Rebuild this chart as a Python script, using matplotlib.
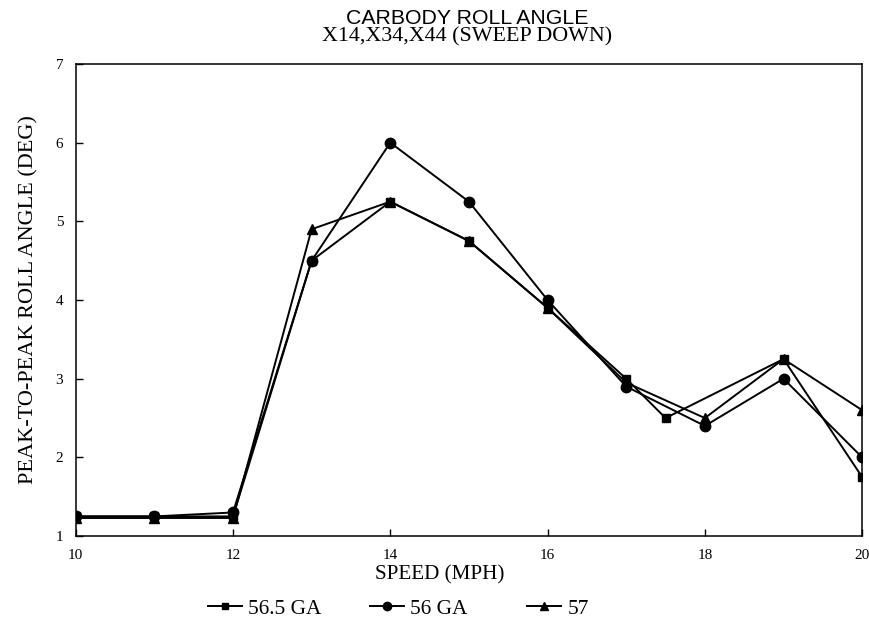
import matplotlib
matplotlib.use("Agg")
import matplotlib.pyplot as plt

# roll angle vs speed for the three gauges
speed_565 = [10, 11, 12, 13, 14, 15, 16, 17, 17.5, 19, 20]
roll_565 = [1.25, 1.25, 1.25, 4.5, 5.25, 4.75, 3.9, 3.0, 2.5, 3.25, 1.75]

speed_56 = [10, 11, 12, 13, 14, 15, 16, 17, 18, 19, 20]
roll_56 = [1.25, 1.25, 1.3, 4.5, 6.0, 5.25, 4.0, 2.9, 2.4, 3.0, 2.0]

speed_57 = [10, 11, 12, 13, 14, 15, 16, 17, 18, 19, 20]
roll_57 = [1.23, 1.23, 1.23, 4.9, 5.25, 4.75, 3.9, 2.95, 2.5, 3.25, 2.6]

labels = ["56.5 GA", "56 GA", "57"]

serif = ["Liberation Serif", "DejaVu Serif"]
sans = ["Liberation Sans", "DejaVu Sans"]

fig = plt.figure(figsize=(8.7, 6.27), dpi=100)
ax = fig.add_axes([0.087, 0.145, 0.904, 0.753])

l1, = ax.plot(speed_565, roll_565, color="black", lw=1.4, marker="s", ms=6, label=labels[0])
l2, = ax.plot(speed_56, roll_56, color="black", lw=1.4, marker="o", ms=7.5, label=labels[1])
l3, = ax.plot(speed_57, roll_57, color="black", lw=1.4, marker="^", ms=7, label=labels[2])

ax.set_xlim(10, 20)
ax.set_ylim(1, 7)
ax.set_xticks([10, 12, 14, 16, 18, 20])
ax.set_yticks([1, 2, 3, 4, 5, 6, 7])
ax.tick_params(direction="in", length=5, width=1, pad=9)
for lab in ax.get_xticklabels() + ax.get_yticklabels():
    lab.set_family(serif)
    lab.set_fontsize(11)
for sp in ax.spines.values():
    sp.set_linewidth(1.1)

ax.set_xlabel("SPEED (MPH)", family=serif, fontsize=15.2)
ax.xaxis.set_label_coords(0.463, -0.062)
ax.set_ylabel("PEAK-TO-PEAK ROLL ANGLE (DEG)", family=serif, fontsize=16, labelpad=12)

fig.text(0.537, 0.971, "CARBODY ROLL ANGLE", family=sans, fontsize=15.3,
         ha="center", va="center")
fig.text(0.537, 0.942, "X14,X34,X44 (SWEEP DOWN)", family=serif, fontsize=15.8,
         ha="center", va="center")

# one small legend per curve, spaced out under the x label
for line, x0 in zip([l1, l2, l3], [208, 370, 527]):
    fig.legend(handles=[line], loc="center left", bbox_to_anchor=(x0 / 870, 0.029),
               frameon=False, prop={"family": serif, "size": 15.3},
               handlelength=1.6, handletextpad=0.3, borderpad=0, borderaxespad=0,
               markerscale=0.8)

fig.savefig("out.png", dpi=100)
